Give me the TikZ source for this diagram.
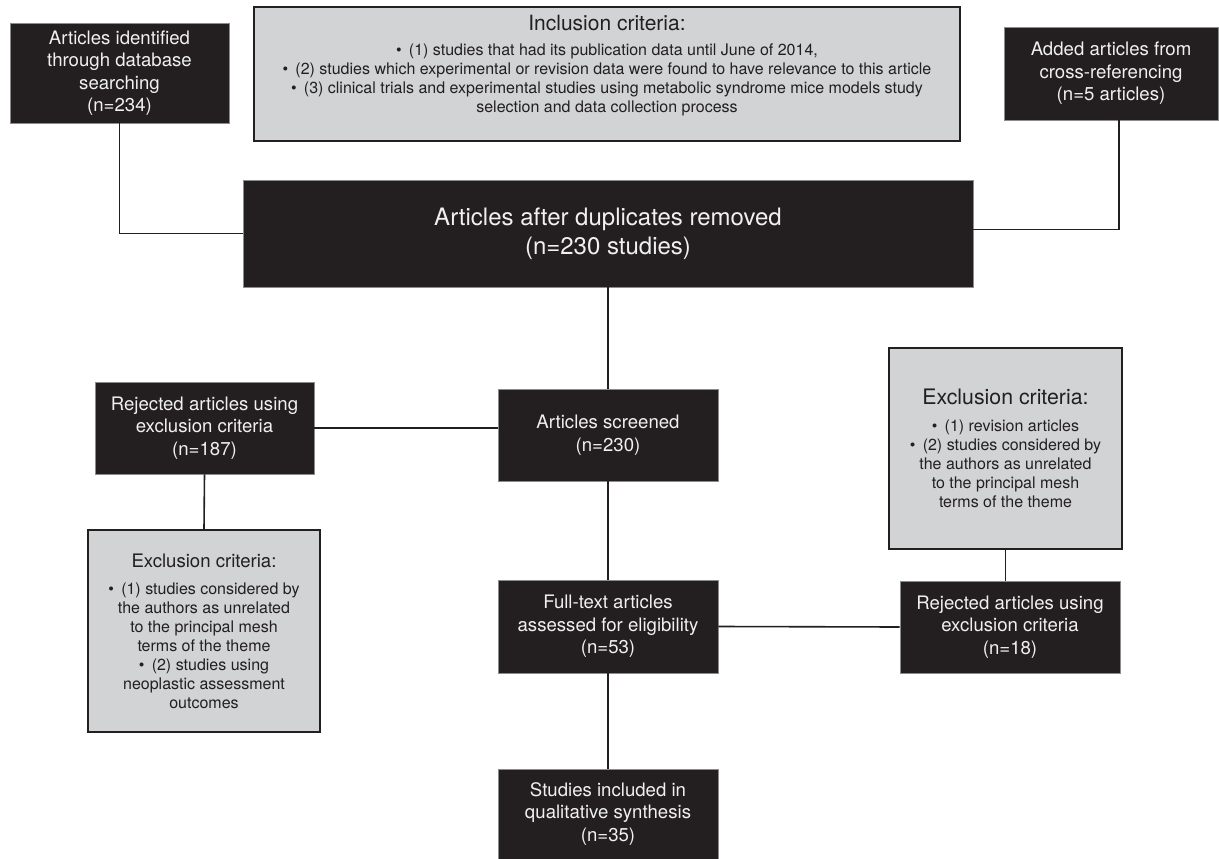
\documentclass[tikz,border=0pt]{standalone}
\usepackage{fontspec}
\setmainfont{TeX Gyre Heros}
\usetikzlibrary{positioning}
\definecolor{boxdark}{HTML}{231F20}
\definecolor{boxgray}{HTML}{D1D3D4}
\definecolor{boxedge}{HTML}{8C8C8C}
\newcommand{\stepfont}{\fontsize{18.6}{22.5}\selectfont} % text of the black boxes
\newcommand{\bigstepfont}{\fontsize{24}{29}\selectfont} % text of the wide black box
\newcommand{\critfont}{\fontsize{16}{19}\selectfont} % bullet lines of the grey boxes
\newcommand{\crit}{\textbullet\hspace{0.45em}} % bullet in front of a criterion

\begin{document}
\begin{tikzpicture}[x=1pt, y=-1pt,
  stepbox/.style={draw=boxedge, line width=0.7pt, fill=boxdark, text=white!94!black,
    align=center, inner sep=0pt, minimum width=220, minimum height=92, font=\stepfont},
  critbox/.style={draw=boxdark, line width=1.5pt, fill=boxgray, text=boxdark,
    align=center, inner sep=0pt, font=\critfont},
  link/.style={draw=boxdark, line width=1.6pt}]

\useasboundingbox (0,0) rectangle (1219,859);

% Identification row
\node[stepbox, minimum width=219, minimum height=100] (ident) at (119.5,73)
  {Articles identified\\through database\\searching\\(n=234)};
\node[critbox, minimum width=706, minimum height=134] (incl) at (607,74) {};
\node[text=boxdark, align=center, font=\critfont] (incltext) at ([yshift=8pt]incl.center)
  {{\fontsize{21}{24}\selectfont Inclusion criteria:}\\[6pt]
   \crit(1) studies that had its publication data until June of 2014,\\
   \crit(2) studies which experimental or revision data were found to have relevance to this article\\
   \crit(3) clinical trials and experimental studies using metabolic syndrome mice models study\\
   selection and data collection process};
\node[stepbox, minimum width=214, minimum height=93] (added) at (1111,73.5)
  {Added articles from\\cross-referencing\\(n=5 articles)};

% Duplicates removed
\node[stepbox, minimum width=730, minimum height=107, font=\bigstepfont] (dup) at (608,233.5)
  {Articles after duplicates removed\\(n=230 studies)};

% Screening row
\node[stepbox] (screen) at (608,435) {Articles screened\\(n=230)};
\node[stepbox, minimum width=219] (rejL) at (204.5,428)
  {Rejected articles using\\exclusion criteria\\(n=187)};
\node[critbox, minimum width=232, minimum height=202] (exL) at (204,631)
  {{\fontsize{18.6}{22}\selectfont Exclusion criteria:}\\[8pt]
   \crit(1) studies considered by\\the authors as unrelated\\to the principal mesh\\terms of the theme\\
   \crit(2) studies using\\neoplastic assessment\\outcomes};
\node[critbox, minimum width=233, minimum height=201] (exR) at (1005.5,448.5)
  {{\fontsize{21.3}{24}\selectfont Exclusion criteria:}\\[8pt]
   \crit(1) revision articles\\
   \crit(2) studies considered by\\the authors as unrelated\\to the principal mesh\\terms of the theme};

% Eligibility and inclusion
\node[stepbox, minimum height=93] (full) at (608,626.5)
  {Full-text articles\\assessed for eligibility\\(n=53)};
\node[stepbox] (rejR) at (1010,627) {Rejected articles using\\exclusion criteria\\(n=18)};
\node[stepbox, minimum height=90] (final) at (608,814)
  {Studies included in\\qualitative synthesis\\(n=35)};

% Connectors
\draw[link] (ident.south) |- (dup.west);
\draw[link] ([xshift=8pt]added.south) |- ([yshift=4pt]dup.east);
\draw[link] (dup.south) -- (screen.north);
\draw[link] (rejL.east) -- (rejL.east -| screen.west);
\draw[link] (rejL.south) -- (exL.north);
\draw[link] (screen.south) -- (full.north);
\draw[link] (full.east) -- (rejR.west);
\draw[link] (exR.south) -- (exR.south |- rejR.north);
\draw[link] (full.south) -- (final.north);

\end{tikzpicture}
\end{document}
